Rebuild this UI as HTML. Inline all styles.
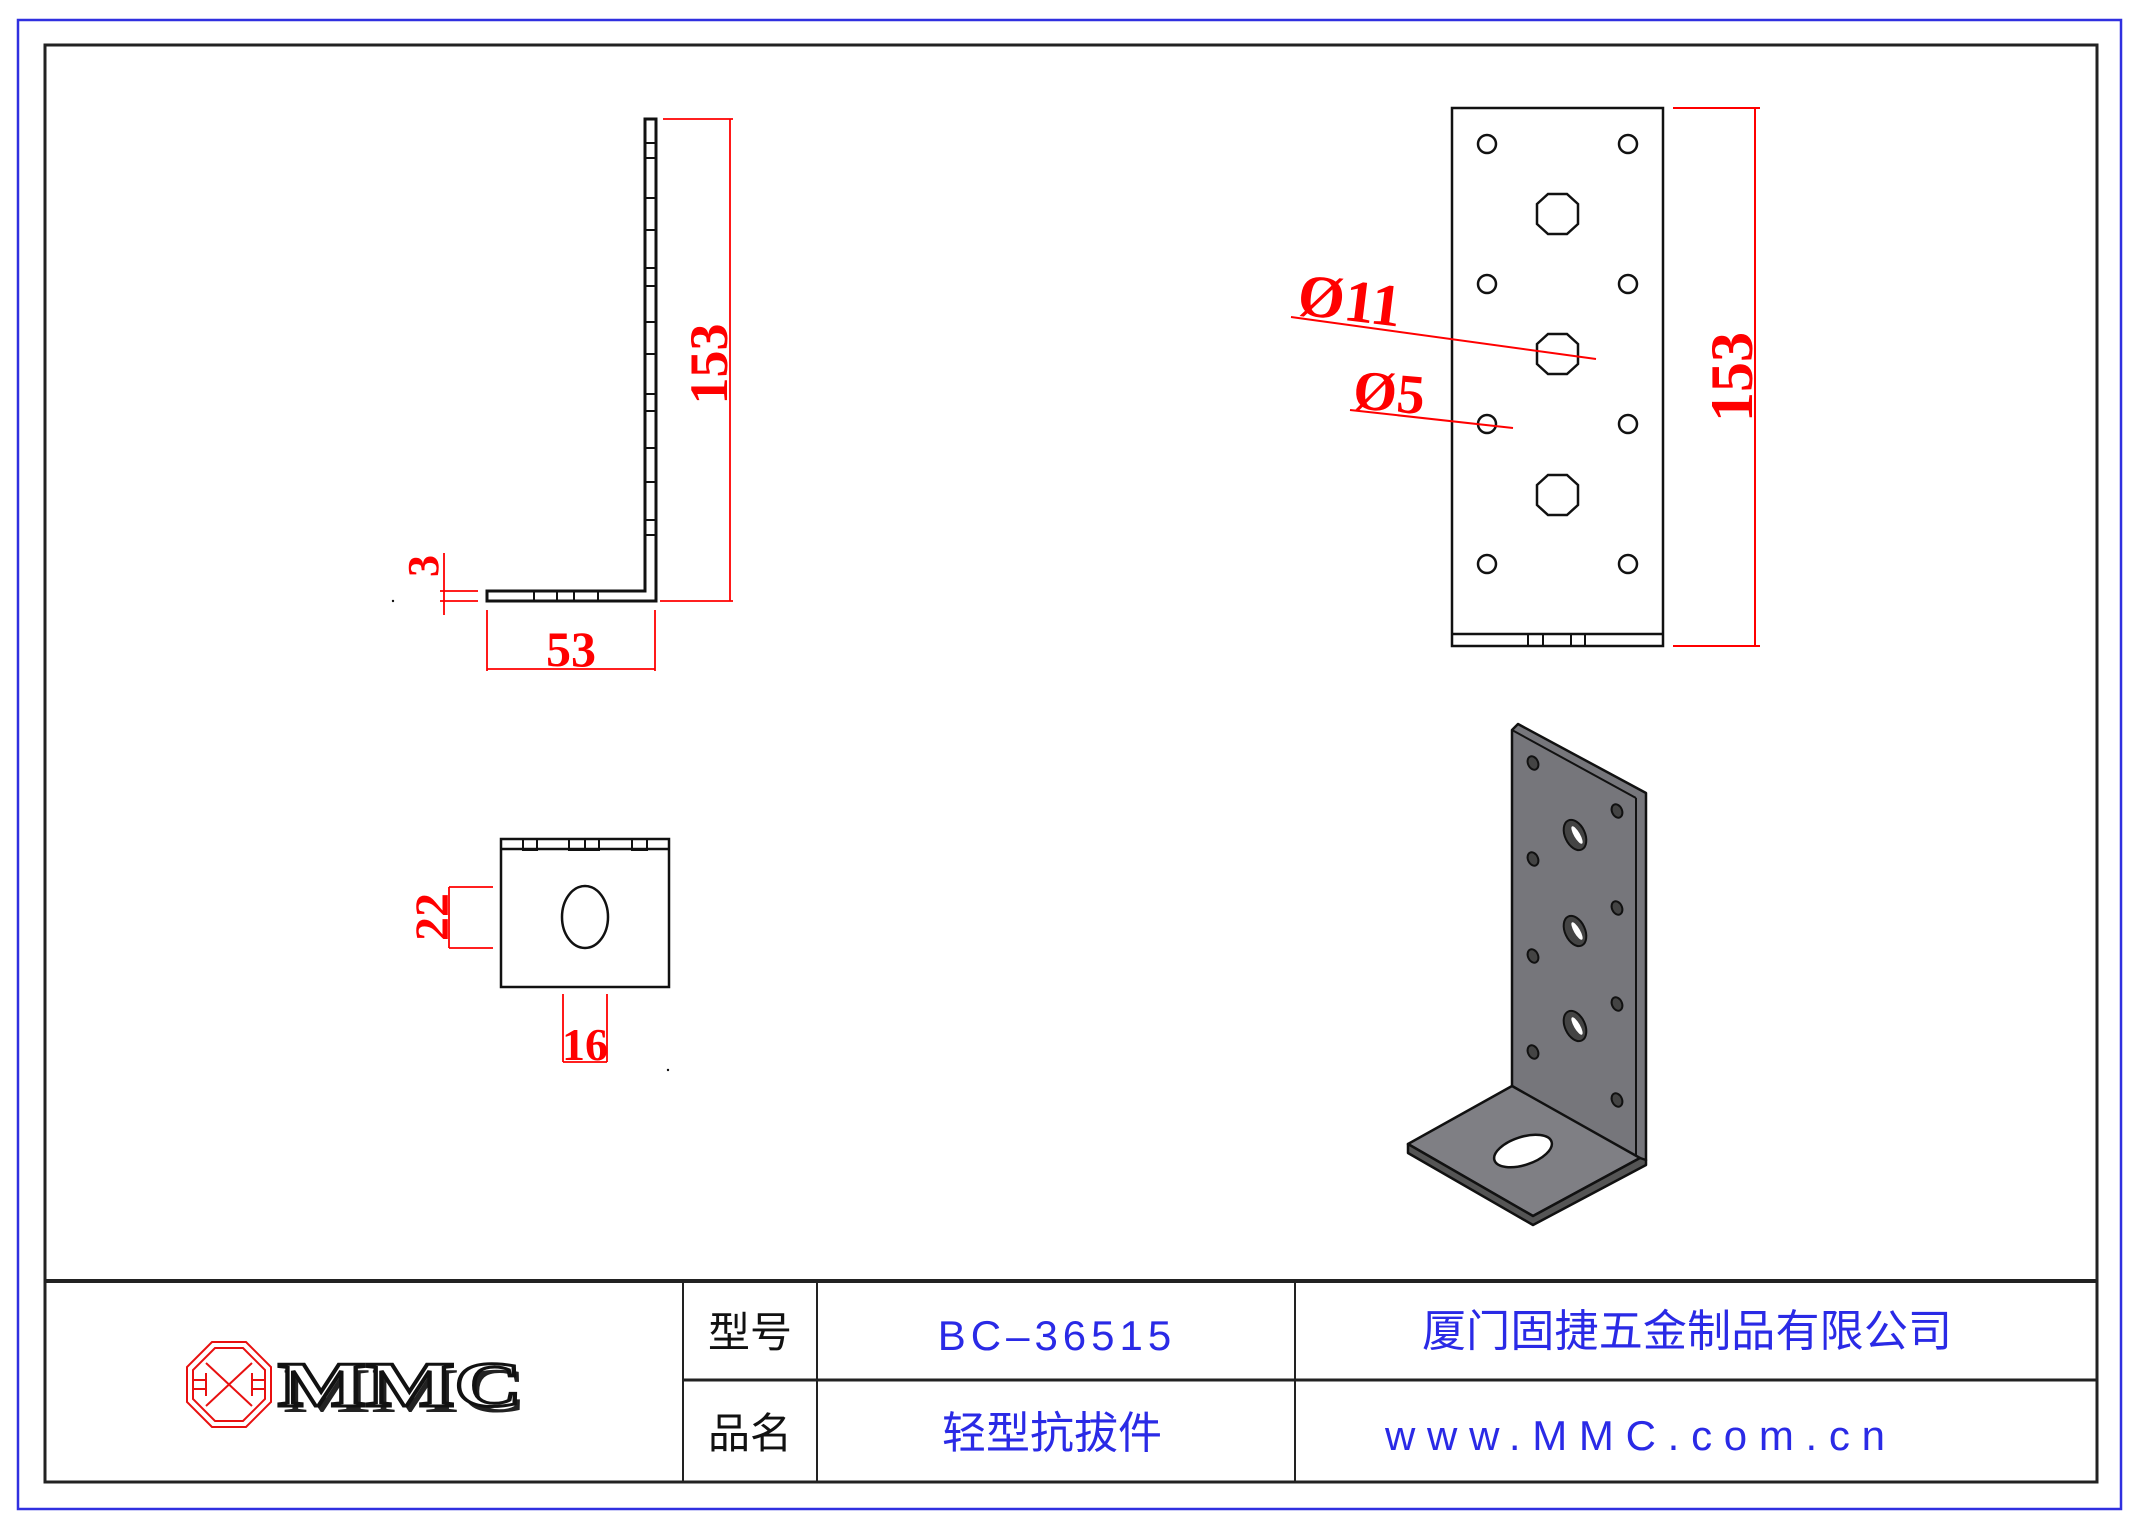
<!DOCTYPE html>
<html><head><meta charset="utf-8"><style>
html,body{margin:0;padding:0;background:#fff;width:2142px;height:1522px;overflow:hidden}
svg{display:block}
.r{fill:#ff0000;font-family:"Liberation Serif",serif;font-weight:bold}
.b{fill:#2a2ae6;font-family:"Liberation Sans","Noto Sans CJK SC",sans-serif}
.k{fill:#111;font-family:"Liberation Sans","Noto Sans CJK SC",sans-serif}
</style></head><body>
<svg width="2142" height="1522" viewBox="0 0 2142 1522" xmlns="http://www.w3.org/2000/svg">
<rect x="18" y="20" width="2103" height="1489" fill="none" stroke="#3030e0" stroke-width="2.5"/>
<rect x="45" y="45" width="2052" height="1437" fill="none" stroke="#222" stroke-width="3"/>
<!-- title block -->
<g stroke="#222" fill="none">
<line x1="45" y1="1281" x2="2097" y2="1281" stroke-width="4"/>
<line x1="683" y1="1380" x2="2097" y2="1380" stroke-width="3"/>
<line x1="683" y1="1281" x2="683" y2="1482" stroke-width="2"/>
<line x1="817" y1="1281" x2="817" y2="1482" stroke-width="2"/>
<line x1="1295" y1="1281" x2="1295" y2="1482" stroke-width="2"/>
</g>
<text class="k" x="750" y="1347" font-size="42" text-anchor="middle">型号</text>
<text class="k" x="750" y="1448" font-size="42" text-anchor="middle">品名</text>
<text class="b" x="1057" y="1350" font-size="42" text-anchor="middle" letter-spacing="5">BC–36515</text>
<text class="b" x="1052" y="1448" font-size="44" text-anchor="middle">轻型抗拔件</text>
<text class="b" x="1687" y="1346" font-size="44" text-anchor="middle" textLength="530">厦门固捷五金制品有限公司</text>
<text class="b" x="1635" y="1450" font-size="42" text-anchor="middle" textLength="500">www.MMC.com.cn</text>
<!-- logo -->
<g fill="none" stroke="#e81010" stroke-width="2">
<polygon points="212,1342 246,1342 271,1367 271,1402 246,1427 212,1427 187,1402 187,1367"/>
<polygon points="215,1348 243,1348 265,1370 265,1399 243,1421 215,1421 193,1399 193,1370"/>
<line x1="206" y1="1363" x2="252" y2="1406"/><line x1="252" y1="1363" x2="206" y2="1406"/>
<line x1="193" y1="1380" x2="206" y2="1380"/><line x1="193" y1="1389" x2="206" y2="1389"/>
<line x1="252" y1="1380" x2="265" y2="1380"/><line x1="252" y1="1389" x2="265" y2="1389"/>
<line x1="206" y1="1373" x2="206" y2="1396"/><line x1="252" y1="1373" x2="252" y2="1396"/>
</g>
<text x="283" y="1412" font-family="Liberation Serif,serif" font-weight="bold" font-size="64" textLength="244" lengthAdjust="spacingAndGlyphs" fill="#222">MMC</text>
<text x="278" y="1406" font-family="Liberation Serif,serif" font-weight="bold" font-size="64" textLength="244" lengthAdjust="spacingAndGlyphs" fill="#fff" stroke="#111" stroke-width="3">MMC</text>
<!-- side view -->
<g fill="none" stroke="#111" stroke-width="3">
<path d="M645,119 H656 V601 H487 V591 H645 Z"/>
<g stroke-width="2">
<rect x="645" y="143" width="11" height="15"/><rect x="645" y="198" width="11" height="32"/>
<rect x="645" y="268" width="11" height="18"/><rect x="645" y="322" width="11" height="32"/>
<rect x="645" y="394" width="11" height="17"/><rect x="645" y="448" width="11" height="34"/>
<rect x="645" y="520" width="11" height="15"/>
<rect x="534" y="591" width="64" height="10"/><line x1="557" y1="591" x2="557" y2="601"/><line x1="574" y1="591" x2="574" y2="601"/>
</g>
</g>
<g stroke="#ff0000" stroke-width="1.8" fill="none">
<line x1="663" y1="119" x2="733" y2="119"/><line x1="660" y1="601" x2="733" y2="601"/>
<line x1="730" y1="119" x2="730" y2="601"/>
<line x1="487" y1="610" x2="487" y2="671"/><line x1="655" y1="610" x2="655" y2="671"/>
<line x1="487" y1="669" x2="655" y2="669"/>
<line x1="444" y1="553" x2="444" y2="615"/>
<line x1="440" y1="591" x2="478" y2="591"/><line x1="440" y1="601" x2="478" y2="601"/>
</g>
<text class="r" font-size="54" transform="translate(727,364) rotate(-90)" text-anchor="middle">153</text>
<text class="r" x="571" y="666" font-size="50" text-anchor="middle">53</text>
<text class="r" font-size="44" transform="translate(438,566) rotate(-90)" text-anchor="middle">3</text>
<circle cx="393" cy="601" r="1.2" fill="#111"/>
<!-- bottom view -->
<g fill="none" stroke="#111" stroke-width="2.5">
<rect x="501" y="839" width="168" height="148"/>
<line x1="501" y1="849" x2="669" y2="849"/>
<g stroke-width="2"><rect x="523" y="839" width="14" height="11"/><rect x="569" y="839" width="30" height="11"/><line x1="585" y1="839" x2="585" y2="850"/><rect x="632" y="839" width="15" height="11"/></g>
<ellipse cx="585" cy="917" rx="23" ry="31"/>
</g>
<g stroke="#ff0000" stroke-width="1.8" fill="none">
<line x1="449" y1="887" x2="449" y2="948"/><line x1="449" y1="887" x2="493" y2="887"/><line x1="449" y1="948" x2="493" y2="948"/>
<line x1="563" y1="994" x2="563" y2="1062"/><line x1="607" y1="994" x2="607" y2="1062"/><line x1="563" y1="1062" x2="607" y2="1062"/>
</g>
<text class="r" font-size="48" transform="translate(448,917) rotate(-90)" text-anchor="middle">22</text>
<text class="r" x="585" y="1060" font-size="46" text-anchor="middle">16</text>
<circle cx="668" cy="1070" r="1.2" fill="#111"/>
<!-- front view -->
<g fill="none" stroke="#111" stroke-width="2.5">
<rect x="1452" y="108" width="211" height="538"/>
<line x1="1452" y1="634" x2="1663" y2="634"/>
<g stroke-width="2"><rect x="1528" y="634" width="57" height="12"/><line x1="1543" y1="634" x2="1543" y2="646"/><line x1="1571" y1="634" x2="1571" y2="646"/></g>
<circle cx="1487" cy="144" r="9"/><circle cx="1628" cy="144" r="9"/>
<circle cx="1487" cy="284" r="9"/><circle cx="1628" cy="284" r="9"/>
<circle cx="1487" cy="424" r="9"/><circle cx="1628" cy="424" r="9"/>
<circle cx="1487" cy="564" r="9"/><circle cx="1628" cy="564" r="9"/>
<polygon points="1548,194 1567,194 1578,204 1578,224 1567,234 1548,234 1537,224 1537,204"/>
<polygon points="1548,334 1567,334 1578,344 1578,364 1567,374 1548,374 1537,364 1537,344"/>
<polygon points="1548,475 1567,475 1578,485 1578,505 1567,515 1548,515 1537,505 1537,485"/>
</g>
<g stroke="#ff0000" stroke-width="2" fill="none">
<line x1="1291" y1="317" x2="1596" y2="359"/>
<line x1="1350" y1="410" x2="1513" y2="428"/>
<line x1="1673" y1="108" x2="1760" y2="108"/><line x1="1673" y1="646" x2="1760" y2="646"/>
<line x1="1755" y1="108" x2="1755" y2="646"/>
</g>
<text class="r" font-size="60" transform="translate(1296,314) rotate(7)">Ø11</text>
<text class="r" font-size="56" transform="translate(1352,408) rotate(5)">Ø5</text>
<text class="r" font-size="60" transform="translate(1752,377) rotate(-90)" text-anchor="middle">153</text>
<!-- iso view -->
<g stroke="#111" stroke-width="2.5" stroke-linejoin="round">
<polygon points="1512,730 1518,724 1646,793 1646,1160 1636,1160 1512,1086" fill="#76767b"/>
<line x1="1636" y1="798" x2="1636" y2="1158" stroke-width="2"/>
<line x1="1512" y1="730" x2="1636" y2="798" stroke-width="2"/>
<polygon points="1512,1086 1640,1158 1533,1216 1408,1144" fill="#7f7f84"/>
<polygon points="1408,1144 1533,1216 1640,1158 1646,1160 1646,1165 1533,1225 1408,1153" fill="#555"/>
</g>
<g stroke="#111" stroke-width="2" fill="#444">
<ellipse cx="1533" cy="763" rx="5" ry="7" transform="rotate(-25 1533 763)"/>
<ellipse cx="1533" cy="859" rx="5" ry="7" transform="rotate(-25 1533 859)"/>
<ellipse cx="1533" cy="956" rx="5" ry="7" transform="rotate(-25 1533 956)"/>
<ellipse cx="1533" cy="1052" rx="5" ry="7" transform="rotate(-25 1533 1052)"/>
<ellipse cx="1617" cy="811" rx="5" ry="7" transform="rotate(-25 1617 811)"/>
<ellipse cx="1617" cy="908" rx="5" ry="7" transform="rotate(-25 1617 908)"/>
<ellipse cx="1617" cy="1004" rx="5" ry="7" transform="rotate(-25 1617 1004)"/>
<ellipse cx="1617" cy="1100" rx="5" ry="7" transform="rotate(-25 1617 1100)"/>
<ellipse cx="1575" cy="835" rx="10" ry="16" transform="rotate(-25 1575 835)"/>
<ellipse cx="1575" cy="931" rx="10" ry="16" transform="rotate(-25 1575 931)"/>
<ellipse cx="1575" cy="1026" rx="10" ry="16" transform="rotate(-25 1575 1026)"/>
</g>
<g fill="#fff">
<ellipse cx="1577" cy="835" rx="3" ry="10" transform="rotate(-30 1577 835)"/>
<ellipse cx="1577" cy="931" rx="3" ry="10" transform="rotate(-30 1577 931)"/>
<ellipse cx="1577" cy="1026" rx="3" ry="10" transform="rotate(-30 1577 1026)"/>
</g>
<ellipse cx="1523" cy="1151" rx="30" ry="14" transform="rotate(-18 1523 1151)" fill="#fff" stroke="#111" stroke-width="2.5"/>
</svg>
</body></html>
